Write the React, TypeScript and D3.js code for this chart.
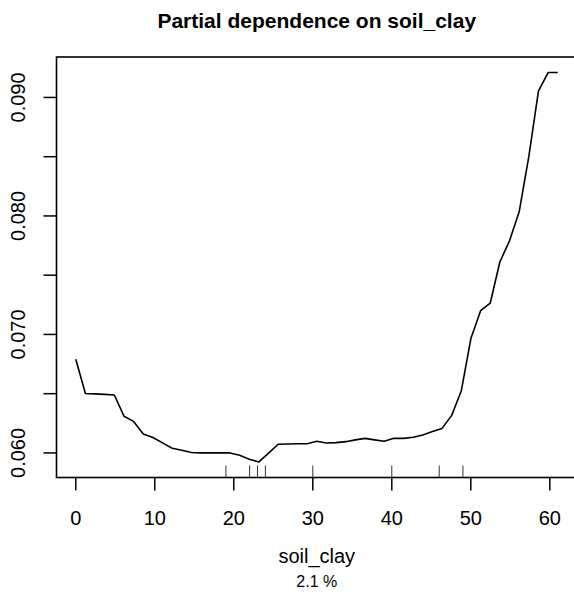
import React from "react";
import * as d3 from "d3";

// значения кривой частичной зависимости
const clayValues = [
  0, 1.22, 2.44, 3.66, 4.88, 6.1, 7.32, 8.54, 9.76, 10.98, 12.2, 13.42, 14.64,
  15.86, 17.08, 18.3, 19.52, 20.74, 21.96, 23.18, 24.4, 25.62, 26.84, 28.06,
  29.28, 30.5, 31.72, 32.94, 34.16, 35.38, 36.6, 37.82, 39.04, 40.26, 41.48,
  42.7, 43.92, 45.14, 46.36, 47.58, 48.8, 50.02, 51.24, 52.46, 53.68, 54.9,
  56.12, 57.34, 58.56, 59.78, 61.0,
];
const dependence = [
  0.0679, 0.06502, 0.06498, 0.06494, 0.06489, 0.0631, 0.06266, 0.0616, 0.0613,
  0.06085, 0.0604, 0.06022, 0.06003, 0.06, 0.06, 0.06, 0.06, 0.0598, 0.05946,
  0.05924, 0.05999, 0.06073, 0.06075, 0.06077, 0.06078, 0.06098, 0.06084,
  0.06087, 0.06095, 0.0611, 0.06123, 0.0611, 0.06098, 0.06123, 0.06123,
  0.06132, 0.06152, 0.0618, 0.06207, 0.06317, 0.06525, 0.06968, 0.072,
  0.07265, 0.07613, 0.0779, 0.08035, 0.085, 0.09053, 0.0921, 0.0921,
];
// деcили (rug)
const rugValues = [19, 22, 23, 24, 30, 40, 46, 49];
const xTicks = [0, 10, 20, 30, 40, 50, 60];
const yTicks = [0.06, 0.065, 0.07, 0.075, 0.08, 0.085, 0.09];
const yLabelTicks = [0.06, 0.07, 0.08, 0.09];

const title = "Partial dependence on soil_clay";
const xTitle = "soil_clay";
const subTitle = "2.1 %";

const width = 574;
const height = 595;
const left = 56.5;
const right = 577;
const top = 57;
const bottom = 477.5;
const font = "'Liberation Sans', Arial, Helvetica, sans-serif";

// R-style pad of 4%
const padded = (ext: [number, number]): [number, number] => {
  const d = (ext[1] - ext[0]) * 0.04;
  return [ext[0] - d, ext[1] + d];
};

export default function App() {
  const x = d3
    .scaleLinear()
    .domain(padded(d3.extent(clayValues) as [number, number]))
    .range([left, right]);
  const y = d3
    .scaleLinear()
    .domain(padded(d3.extent(dependence) as [number, number]))
    .range([bottom, top]);

  const line = d3
    .line<number>()
    .x((_, i) => x(clayValues[i]))
    .y((d) => y(d));

  return (
    <svg
      width={width}
      height={height}
      style={{ position: "absolute", left: 0, top: 0, background: "#fff" }}
      fontFamily={font}
    >
      <text
        x={(left + right) / 2}
        y={28}
        textAnchor="middle"
        fontWeight="bold"
        fontSize={21}
      >
        {title}
      </text>

      {/* рамка */}
      <rect
        x={left}
        y={top}
        width={right - left}
        height={bottom - top}
        fill="none"
        stroke="#000"
        strokeWidth={1.6}
      />

      {/* ось X */}
      {xTicks.map((t) => (
        <g key={"x" + t}>
          <line x1={x(t)} x2={x(t)} y1={bottom} y2={bottom + 13} stroke="#000" strokeWidth={1.5} />
          <text x={x(t)} y={525} textAnchor="middle" fontSize={20}>
            {t}
          </text>
        </g>
      ))}

      {/* ось Y */}
      {yTicks.map((t) => (
        <line key={"y" + t} x1={left - 13} x2={left} y1={y(t)} y2={y(t)} stroke="#000" strokeWidth={1.5} />
      ))}
      {yLabelTicks.map((t) => (
        <text
          key={"yl" + t}
          transform={`translate(25, ${y(t)}) rotate(-90)`}
          textAnchor="middle"
          fontSize={20}
        >
          {d3.format(".3f")(t)}
        </text>
      ))}

      {/* rug */}
      {rugValues.map((r, i) => (
        <line key={"r" + i} x1={x(r)} x2={x(r)} y1={bottom - 12} y2={bottom} stroke="#333" strokeWidth={1} />
      ))}

      <path d={line(dependence) || ""} fill="none" stroke="#000" strokeWidth={1.6} strokeLinejoin="round" />

      <text x={(left + right) / 2} y={563} textAnchor="middle" fontSize={20}>
        {xTitle}
      </text>
      <text x={(left + right) / 2} y={587} textAnchor="middle" fontSize={16}>
        {subTitle}
      </text>
    </svg>
  );
}
